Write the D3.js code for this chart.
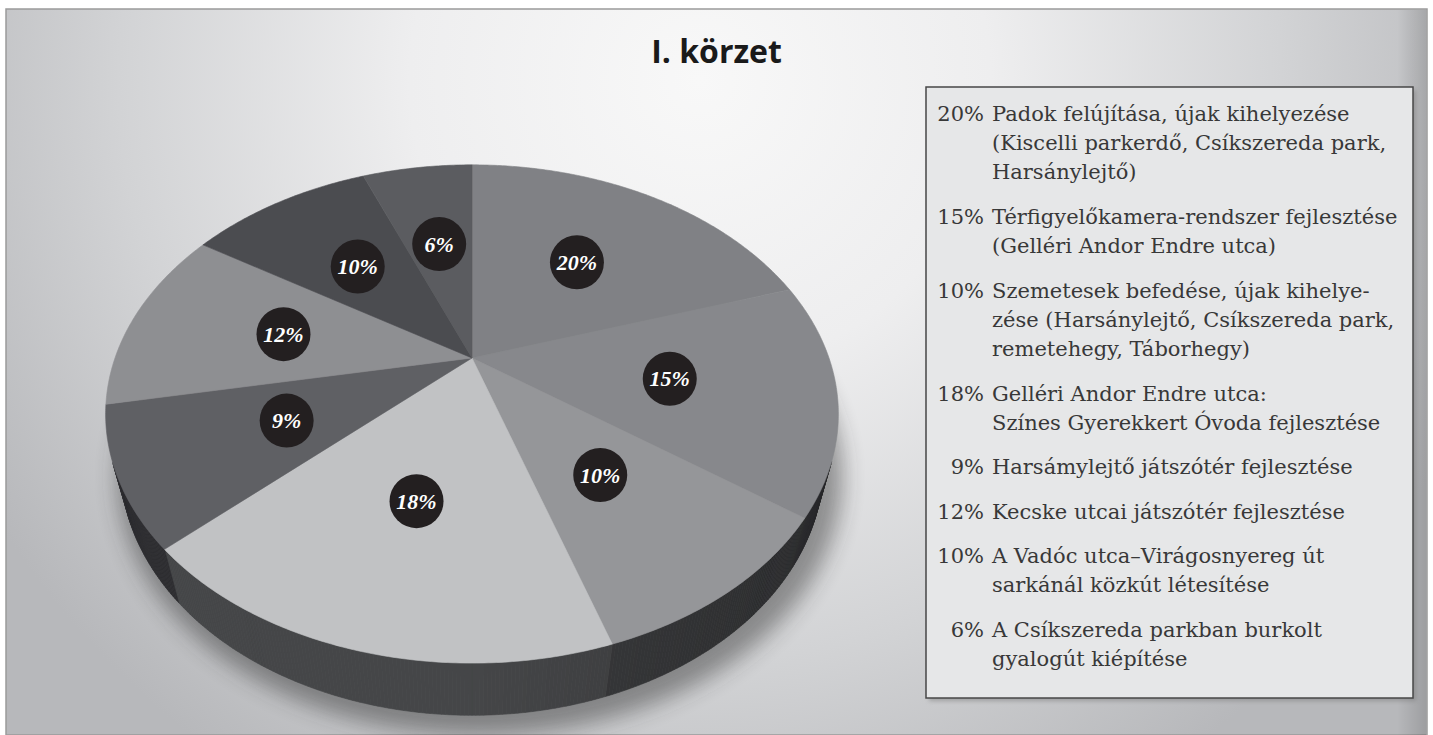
<!DOCTYPE html>
<html>
<head>
<meta charset="utf-8">
<script src="https://cdn.jsdelivr.net/npm/d3@7"></script>
<style>
  body { margin: 0; background: #fff; }
  svg { display: block; }
</style>
</head>
<body>
<svg id="chart" width="1433" height="735"></svg>
<script>
// Chart data
const chartTitle = "I. körzet";
const values = [20, 15, 10, 18, 9, 12, 10, 6];
const legendLines = [
    ["Padok felújítása, újak kihelyezése", "(Kiscelli parkerdő, Csíkszereda park,", "Harsánylejtő)"],
    ["Térfigyelőkamera-rendszer fejlesztése", "(Gelléri Andor Endre utca)"],
    ["Szemetesek befedése, újak kihelye-", "zése (Harsánylejtő, Csíkszereda park,", "remetehegy, Táborhegy)"],
    ["Gelléri Andor Endre utca:", "Színes Gyerekkert Óvoda fejlesztése"],
    ["Harsámylejtő játszótér fejlesztése"],
    ["Kecske utcai játszótér fejlesztése"],
    ["A Vadóc utca–Virágosnyereg út", "sarkánál közkút létesítése"],
    ["A Csíkszereda parkban burkolt", "gyalogút kiépítése"]
];
// slice greys, same order as values
const topColors = ["#808185", "#87888c", "#959699", "#c1c2c4", "#5f6064", "#8e8f92", "#4b4c50", "#5b5c60"];

const W = 1433, H = 735;
const svg = d3.select("#chart");
const defs = svg.append("defs");

// background panel
const bg = defs.append("radialGradient").attr("id", "bg")
    .attr("gradientUnits", "userSpaceOnUse")
    .attr("cx", 700).attr("cy", 80).attr("r", 830);
[[0, "#f8f8f8"], [0.35, "#eeeeef"], [0.7, "#d2d3d5"], [1, "#b7b8bb"]].forEach(s =>
    bg.append("stop").attr("offset", s[0]).attr("stop-color", s[1]));

const edge = defs.append("linearGradient").attr("id", "edge");
edge.append("stop").attr("offset", 0).attr("stop-color", "#000").attr("stop-opacity", 0);
edge.append("stop").attr("offset", 1).attr("stop-color", "#000").attr("stop-opacity", 0.14);

svg.append("rect")
    .attr("x", 6).attr("y", 9).attr("width", W - 12).attr("height", H - 9)
    .attr("fill", "url(#bg)")
    .attr("stroke", "#9a9a9a").attr("stroke-width", 1.5);
svg.append("rect")
    .attr("x", 1397).attr("y", 10).attr("width", 29).attr("height", H - 10)
    .attr("fill", "url(#edge)");

defs.append("filter").attr("id", "blur").attr("x", "-20%").attr("y", "-20%").attr("width", "140%").attr("height", "140%")
    .append("feGaussianBlur").attr("stdDeviation", 11);
defs.append("filter").attr("id", "blurSmall")
    .append("feGaussianBlur").attr("stdDeviation", 2);

// title
svg.append("text")
    .attr("x", W / 2).attr("y", 63)
    .attr("text-anchor", "middle")
    .style("font-family", "'Open Sans', sans-serif")
    .style("font-weight", 700)
    .style("font-size", "32px")
    .style("fill", "#1a1a1a")
    .text(chartTitle);

// perspective projection of the pie disk (u right, v away, h up, radius 1)
const cx = 472, cy = 358, S = 357, k = 0.3, T = 0.206;
const phi = 41.5 * Math.PI / 180;
const cosP = Math.cos(phi), sinP = Math.sin(phi);
function project(u, v, h) {
    const d = 1 + k * (v * cosP - h * sinP);
    return [cx + S * u / d, cy - S * (h * cosP + v * sinP) / d];
}
const onRim = (a, h, r = 1) => project(r * Math.sin(a), r * Math.cos(a), h);

const pie = d3.pie().sort(null).value(d => d);
const arcs = pie(values);
const step = Math.PI / 360;
const line = d3.line().curve(d3.curveLinearClosed);

// soft shadow under the pie
const ring = d3.range(0, 2 * Math.PI, step).map(a => onRim(a, -T, 1.03));
svg.append("path")
    .attr("d", line(ring))
    .attr("transform", "translate(8,8)")
    .attr("fill", "#2a2a2c")
    .attr("opacity", 0.45)
    .attr("filter", "url(#blur)");

// side wall, only the part facing the viewer
const visLimit = -k / cosP;
const sideG = svg.append("g");
arcs.forEach((a, i) => {
    const base = d3.interpolateRgb(topColors[i], "#1c1c1e")(0.75);
    const angles = d3.range(a.startAngle, a.endAngle, step).concat([a.endAngle]);
    for (let j = 0; j < angles.length - 1; j++) {
        const a0 = angles[j], a1 = angles[j + 1];
        const mid = (a0 + a1) / 2;
        if (Math.cos(mid) >= visLimit) continue;
        const shade = 1 - 0.3 * Math.max(0, Math.sin(mid));
        const c = d3.color(base);
        c.r *= shade; c.g *= shade; c.b *= shade;
        const col = c.formatHex();
        sideG.append("path")
            .attr("d", line([onRim(a0, 0), onRim(a1, 0), onRim(a1, -T), onRim(a0, -T)]))
            .attr("fill", col)
            .attr("stroke", col)
            .attr("stroke-width", 0.6);
    }
});

// top face slices
svg.append("g")
    .selectAll("path")
    .data(arcs)
    .join("path")
    .attr("d", a => {
        const angles = d3.range(a.startAngle, a.endAngle, step).concat([a.endAngle]);
        return line([project(0, 0, 0)].concat(angles.map(t => onRim(t, 0))));
    })
    .attr("fill", (a, i) => topColors[i])
    .attr("stroke", (a, i) => topColors[i])
    .attr("stroke-width", 0.6);

// percent badges
const badges = svg.append("g")
    .selectAll("g")
    .data(arcs)
    .join("g")
    .attr("transform", a => {
        const p = onRim((a.startAngle + a.endAngle) / 2, 0, 0.55);
        return `translate(${p[0]},${p[1]})`;
    });
badges.append("circle")
    .attr("r", 27)
    .attr("fill", "#231f20");
badges.append("text")
    .attr("text-anchor", "middle")
    .attr("dy", "0.35em")
    .style("font-family", "'Liberation Serif', serif")
    .style("font-weight", 700)
    .style("font-style", "italic")
    .style("font-size", "22px")
    .style("fill", "#fff")
    .text(a => a.data + "%");

// legend box
const box = { x: 926, y: 87, w: 487, h: 611 };
svg.append("rect")
    .attr("x", box.x + 3).attr("y", box.y + 3).attr("width", box.w).attr("height", box.h)
    .attr("fill", "#777").attr("opacity", 0.5)
    .attr("filter", "url(#blurSmall)");
svg.append("rect")
    .attr("x", box.x).attr("y", box.y).attr("width", box.w).attr("height", box.h)
    .attr("fill", "#e6e7e8")
    .attr("stroke", "#474747").attr("stroke-width", 1.5);

const legend = svg.append("g")
    .style("font-family", "'DejaVu Serif', serif")
    .style("font-size", "21px")
    .style("fill", "#383838");
const lineH = 29.2, gap = 15.3;
let y = 121;
legendLines.forEach((lines, i) => {
    legend.append("text")
        .attr("x", 984).attr("y", y)
        .attr("text-anchor", "end")
        .text(values[i] + "%");
    lines.forEach((t, j) => {
        legend.append("text")
            .attr("x", 992).attr("y", y)
            .text(t);
        y += lineH;
    });
    y += gap;
});
</script>
</body>
</html>
